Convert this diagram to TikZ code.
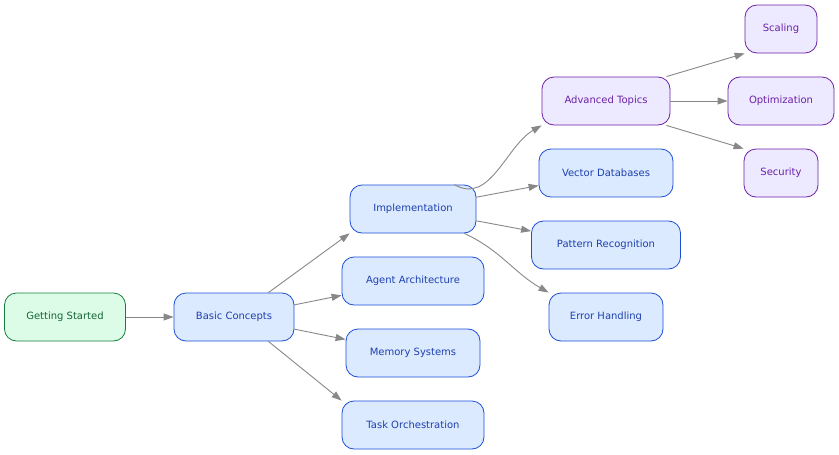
\documentclass[tikz,border=0pt]{standalone}
\usepackage{fontspec}
\setmainfont{DejaVu Sans}
\usetikzlibrary{arrows.meta}
\definecolor{gf}{HTML}{DCFCE7}\definecolor{gb}{HTML}{15803D}\definecolor{gt}{HTML}{166534}
\definecolor{bf}{HTML}{DBEAFE}\definecolor{bb}{HTML}{1D4ED8}\definecolor{bt}{HTML}{1E40AF}
\definecolor{pf}{HTML}{EDE9FE}\definecolor{pb}{HTML}{6B21A8}\definecolor{pt}{HTML}{6B21A8}
\definecolor{ec}{HTML}{888888}
\begin{document}
\begin{tikzpicture}[x=1pt,y=-1pt,
 box/.style={draw,rounded corners=12pt,minimum height=48pt,inner sep=0pt,font=\fontsize{10}{12}\selectfont,line width=0.8pt},
 g/.style={box,fill=gf,draw=gb,text=gt},
 b/.style={box,fill=bf,draw=bb,text=bt},
 p/.style={box,fill=pf,draw=pb,text=pt},
 e/.style={draw=ec,line width=0.9pt,-{Triangle[length=10pt,width=7pt]}}]
\useasboundingbox (0,0) rectangle (839,455);
\node[g,minimum width=121pt] (gs) at (65,317) {Getting Started};
\node[b,minimum width=120pt] (bc) at (234,317) {Basic Concepts};
\node[b,minimum width=126pt] (im) at (413,209) {Implementation};
\node[b,minimum width=142pt] (aa) at (413,281) {Agent Architecture};
\node[b,minimum width=134pt] (ms) at (413,353) {Memory Systems};
\node[b,minimum width=142pt] (to) at (413,425) {Task Orchestration};
\node[p,minimum width=128pt] (at) at (606,101) {Advanced Topics};
\node[b,minimum width=134pt] (vd) at (606,173) {Vector Databases};
\node[b,minimum width=149pt] (pr) at (606,245) {Pattern Recognition};
\node[b,minimum width=114pt] (eh) at (606,317) {Error Handling};
\node[p,minimum width=72pt] (sc) at (781,29) {Scaling};
\node[p,minimum width=106pt] (op) at (781,101) {Optimization};
\node[p,minimum width=74pt] (se) at (781,173) {Security};
\draw[e] (gs) -- (bc);
\draw[e] (bc.north east)++(-26,0) -- (im.south west);
\draw[e] (bc) -- (aa);
\draw[e] (bc) -- (ms);
\draw[e] (bc.south east)++(-26,0) -- (to.north west);
\draw[e] (im.north east)++(-22,0) to[out=-30,in=210] (at.south west);
\draw[e] (im) -- (vd);
\draw[e] (im) -- (pr);
\draw[e] (im.south east)++(-12,0) to[out=-25,in=150] (eh.north west);
\draw[e] (at.north east)++(-4,0) -- (sc.south west);
\draw[e] (at) -- (op);
\draw[e] (at.south east)++(-4,0) -- (se.north west);
\end{tikzpicture}
\end{document}
